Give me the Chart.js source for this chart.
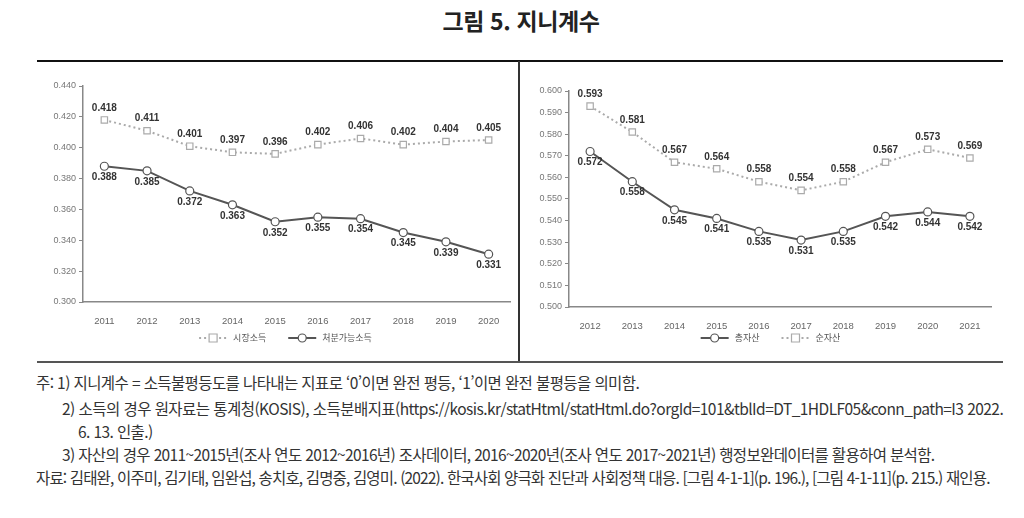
<!DOCTYPE html>
<html lang="ko">
<head>
<meta charset="UTF-8">
<title>그림 5. 지니계수</title>
<script src="https://cdn.jsdelivr.net/npm/chart.js"></script>
<style>
  body { margin: 0; width: 1024px; height: 518px; background: #fff; position: relative; overflow: hidden;
         font-family: "Noto Sans CJK KR", "Noto Sans", sans-serif; }
  h1 { position: absolute; top: 3px; left: 0; width: 1042px; margin: 0; text-align: center;
       font-size: 23px; font-weight: 700; color: #222; letter-spacing: -0.4px; }
  .rule-top { position: absolute; left: 37px; top: 60px; width: 966px; height: 2px; background: #111; }
  .rule-mid { position: absolute; left: 518px; top: 61px; width: 2px; height: 301px; background: #333; }
  .rule-bot { position: absolute; left: 37px; top: 361px; width: 966px; height: 2px; background: #555; }
  #left { position: absolute; left: 37px; top: 70px; }
  #right { position: absolute; left: 522px; top: 70px; }
  .notes { position: absolute; left: 36px; top: 371px; font-size: 15.5px; color: #333; letter-spacing: -0.6px;
           line-height: 23px; }
  .notes div { white-space: nowrap; }
</style>
</head>
<body>
<h1>그림 5. 지니계수</h1>
<div class="rule-top"></div>
<div class="rule-mid"></div>
<div class="rule-bot"></div>
<canvas id="left" width="481" height="280"></canvas>
<canvas id="right" width="481" height="280"></canvas>

<div class="notes">
  <div>주: 1) 지니계수 = 소득불평등도를 나타내는 지표로 ‘0’이면 완전 평등, ‘1’이면 완전 불평등을 의미함.</div>
  <div style="padding-left:26px; margin-top:3px; letter-spacing:-0.55px">2) 소득의 경우 원자료는 통계청(KOSIS), 소득분배지표(https://kosis.kr/statHtml/statHtml.do?orgId=101&amp;tblId=DT_1HDLF05&amp;conn_path=I3 2022.</div>
  <div style="padding-left:42px">6. 13. 인출.)</div>
  <div style="padding-left:26px; letter-spacing:-0.65px">3) 자산의 경우 2011~2015년(조사 연도 2012~2016년) 조사데이터, 2016~2020년(조사 연도 2017~2021년) 행정보완데이터를 활용하여 분석함.</div>
  <div style="letter-spacing:-0.85px">자료: 김태완, 이주미, 김기태, 임완섭, 송치호, 김명중, 김영미. (2022). 한국사회 양극화 진단과 사회정책 대응. [그림 4-1-1](p. 196.), [그림 4-1-11](p. 215.) 재인용.</div>
</div>

<script>
  // 소득 지니계수
  const incomeYears = ['2011', '2012', '2013', '2014', '2015', '2016', '2017', '2018', '2019', '2020'];
  const marketIncome = [0.418, 0.411, 0.401, 0.397, 0.396, 0.402, 0.406, 0.402, 0.404, 0.405];
  const disposableIncome = [0.388, 0.385, 0.372, 0.363, 0.352, 0.355, 0.354, 0.345, 0.339, 0.331];

  // 자산 지니계수
  const assetYears = ['2012', '2013', '2014', '2015', '2016', '2017', '2018', '2019', '2020', '2021'];
  const grossAssets = [0.572, 0.558, 0.545, 0.541, 0.535, 0.531, 0.535, 0.542, 0.544, 0.542];
  const netAssets = [0.593, 0.581, 0.567, 0.564, 0.558, 0.554, 0.558, 0.567, 0.573, 0.569];

  const DARK = '#555';
  const LIGHT = '#aaa';

  // 점 위/아래 값 표시
  const pointLabels = {
    id: 'pointLabels',
    afterDatasetsDraw(chart) {
      const ctx = chart.ctx;
      ctx.save();
      ctx.font = 'bold 10px "Liberation Sans", Arial, sans-serif';
      ctx.fillStyle = '#333';
      ctx.textAlign = 'center';
      ctx.textBaseline = 'middle';
      chart.data.datasets.forEach((ds, i) => {
        chart.getDatasetMeta(i).data.forEach((pt, j) => {
          ctx.fillText(ds.data[j].toFixed(3), pt.x, pt.y + ds.labelOffset);
        });
      });
      ctx.restore();
    }
  };

  // 범례 (선 + 마커 + 이름)
  const lineLegend = {
    id: 'lineLegend',
    afterDraw(chart) {
      const ctx = chart.ctx;
      const order = chart.options.plugins.lineLegend.order;
      const y = chart.height - 12;
      ctx.save();
      ctx.font = '9px "Noto Sans CJK KR", sans-serif';
      const items = order.map(i => chart.data.datasets[i]);
      const widths = items.map(ds => 28 + 6 + ctx.measureText(ds.label).width);
      const gap = 22;
      let x = chart.width / 2 - (widths.reduce((a, b) => a + b, 0) + gap * (items.length - 1)) / 2 + 8;
      items.forEach((ds, k) => {
        ctx.strokeStyle = ds.borderColor;
        ctx.lineWidth = ds.borderWidth;
        ctx.setLineDash(ds.borderDash || []);
        ctx.beginPath();
        ctx.moveTo(x, y);
        ctx.lineTo(x + 28, y);
        ctx.stroke();
        ctx.setLineDash([]);
        ctx.fillStyle = '#fff';
        ctx.lineWidth = 1.2;
        ctx.beginPath();
        if (ds.pointStyle === 'rect') ctx.rect(x + 10, y - 4, 8, 8);
        else ctx.arc(x + 14, y, 4, 0, Math.PI * 2);
        ctx.fill();
        ctx.stroke();
        ctx.fillStyle = '#555';
        ctx.textBaseline = 'middle';
        ctx.fillText(ds.label, x + 34, y);
        x += widths[k] + gap;
      });
      ctx.restore();
    }
  };

  const dataset = (label, data, dotted, labelOffset) => ({
    label: label,
    data: data,
    borderColor: dotted ? LIGHT : DARK,
    borderWidth: 2,
    borderDash: dotted ? [2, 3] : [],
    pointStyle: dotted ? 'rect' : 'circle',
    pointRadius: dotted ? 4.5 : 4,
    pointBorderWidth: 1.2,
    pointBackgroundColor: '#fff',
    pointBorderColor: dotted ? LIGHT : DARK,
    tension: 0,
    labelOffset: labelOffset
  });

  const makeOptions = (min, max, step, yWidth, padding, order) => ({
    responsive: false,
    animation: false,
    layout: { padding: padding },
    plugins: {
      legend: { display: false },
      tooltip: { enabled: false },
      lineLegend: { order: order }
    },
    scales: {
      x: {
        offset: true,
        grid: { display: false },
        border: { color: '#888', width: 1.5 },
        ticks: { color: '#666', font: { size: 9.5, family: '"Liberation Sans", Arial' }, padding: 6 },
        afterFit: (axis) => { axis.height = 24; }
      },
      y: {
        min: min,
        max: max,
        grid: { display: true, drawOnChartArea: false, tickLength: 4, color: '#888' },
        border: { color: '#888', width: 1.5 },
        ticks: {
          stepSize: step,
          color: '#777',
          padding: 3,
          font: { size: 9, family: '"Liberation Sans", Arial' },
          callback: (v) => v.toFixed(3)
        },
        afterFit: (axis) => { axis.width = yWidth; }
      }
    }
  });

  new Chart(document.getElementById('left'), {
    type: 'line',
    data: {
      labels: incomeYears,
      datasets: [
        dataset('시장소득', marketIncome, true, -12),
        dataset('처분가능소득', disposableIncome, false, 11)
      ]
    },
    options: makeOptions(0.30, 0.44, 0.02, 46, { top: 16, right: 8, bottom: 24, left: 0 }, [0, 1]),
    plugins: [pointLabels, lineLegend]
  });

  new Chart(document.getElementById('right'), {
    type: 'line',
    data: {
      labels: assetYears,
      datasets: [
        dataset('총자산', grossAssets, false, 11),
        dataset('순자산', netAssets, true, -12)
      ]
    },
    options: makeOptions(0.50, 0.60, 0.01, 47, { top: 21, right: 12, bottom: 19, left: 0 }, [0, 1]),
    plugins: [pointLabels, lineLegend]
  });
</script>
</body>
</html>
